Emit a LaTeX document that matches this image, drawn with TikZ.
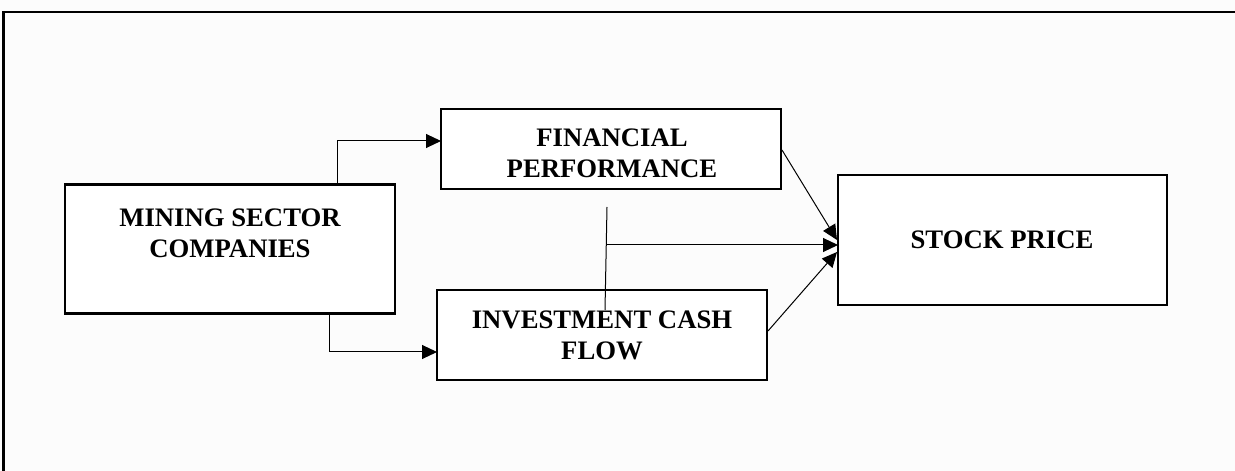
\documentclass[tikz,border=0pt]{standalone}
\usepackage{fontspec}
\setmainfont{Liberation Serif}
\usetikzlibrary{arrows.meta}
\definecolor{bgc}{RGB}{252,252,252}
\begin{document}
\begin{tikzpicture}[x=1bp,y=-1bp,
  box/.style={draw=black,line width=2.4bp,fill=white,inner sep=0pt},
  lbl/.style={font=\fontsize{26.8}{32}\selectfont\bfseries,align=center,inner sep=0pt,anchor=base},
  arr/.style={line width=1bp,-{Triangle[length=15bp,width=14bp]}},
  ln/.style={line width=1bp}]
\fill[bgc] (0,0) rectangle (1235,471);
\useasboundingbox (0,0) rectangle (1235,471);
% frame
\coordinate (fr1) at (3.5,471);
\coordinate (fr2) at (3.5,12.5);
\coordinate (fr3) at (1235,12.5);
\draw[line width=2bp] (fr1) -- (fr2) -- (fr3);
% boxes
\node[box,minimum width=330bp,minimum height=129bp] (mining) at (230,249) {};
\node[box,minimum width=340bp,minimum height=80bp] (fin) at (611,149) {};
\node[box,minimum width=330bp,minimum height=90bp] (inv) at (602,335) {};
\node[box,minimum width=329bp,minimum height=130bp] (stock) at (1002.5,240) {};
% labels (base = last line)
\node[lbl] (miningt) at (230,258) {MINING SECTOR\\COMPANIES};
\coordinate (fclip) at (781,179);
\begin{scope}
\clip (fin.north west) rectangle (fclip);
\node[lbl] (fint) at (612,178) {FINANCIAL\\PERFORMANCE};
\end{scope}
\node[lbl] (invt) at (602,360) {INVESTMENT CASH\\FLOW};
\node[lbl] (stockt) at (1002,249) {STOCK PRICE};
% connectors
\coordinate (m1) at (337,184);
\coordinate (f1) at (441,141);
\coordinate (m2) at (329,313);
\coordinate (i1) at (437,352);
\coordinate (v1) at (607,207);
\coordinate (v2) at (605,310);
\coordinate (h1) at (607,245);
\coordinate (s2) at (838,245);
\coordinate (f2) at (782,150);
\coordinate (s1) at (837,240);
\coordinate (i2) at (768,331);
\coordinate (s3) at (837,252);
\draw[arr] (m1) |- (f1);
\draw[arr] (m2) |- (i1);
\draw[ln] (v1) -- (v2);
\draw[arr] (h1) -- (s2);
\draw[arr] (f2) -- (s1);
\draw[arr] (i2) -- (s3);
\end{tikzpicture}
\end{document}
